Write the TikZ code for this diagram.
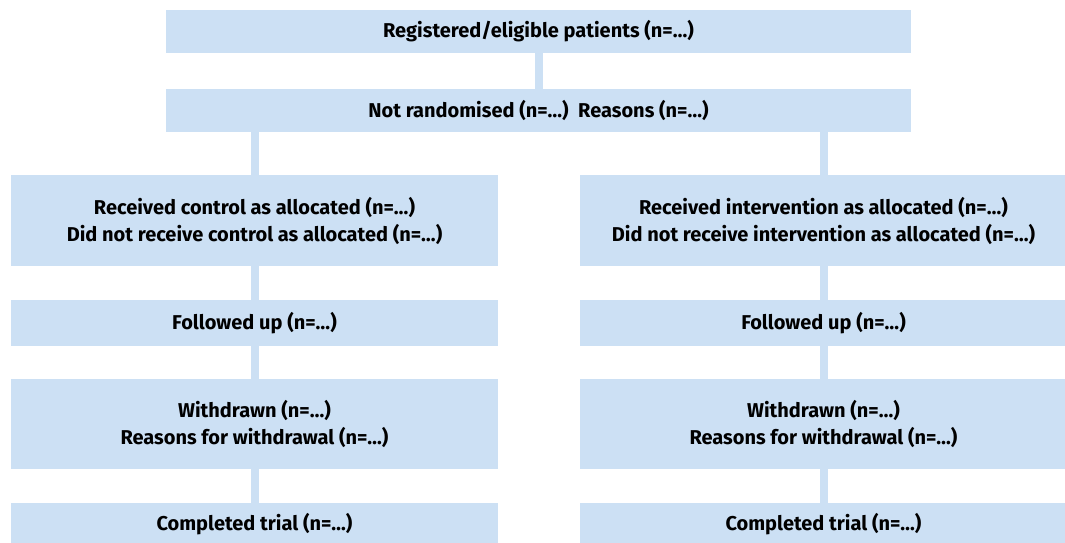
\documentclass[tikz,border=0pt]{standalone}
\usepackage{fontspec}
\setmainfont{Fira Sans}
\definecolor{boxblue}{RGB}{204,224,244}
\begin{document}
\begin{tikzpicture}[x=1pt, y=-1pt,
        box/.style={fill=boxblue, inner sep=0pt, align=center,
            font=\fontsize{20}{27}\selectfont\bfseries},
        link/.style={draw=boxblue, line width=8pt}]
    \useasboundingbox (0,0) rectangle (1065,542);
    % top of the trial
    \node[box, minimum width=745, minimum height=43] (reg) at (538.5,31.5)
        {Registered/eligible patients (n=\dots)};
    \node[box, minimum width=745, minimum height=43] (notrand) at (538.5,110.5)
        {Not randomised (n=\dots)\ \ Reasons (n=\dots)};
    % control arm
    \node[box, minimum width=487, minimum height=91] (ctrl) at (254.5,220.5)
        {Received control as allocated (n=\dots)\\Did not receive control as allocated (n=\dots)};
    \node[box, minimum width=487, minimum height=46] (fupctrl) at (254.5,323)
        {Followed up (n=\dots)};
    \node[box, minimum width=487, minimum height=90] (wdctrl) at (254.5,424)
        {Withdrawn (n=\dots)\\Reasons for withdrawal (n=\dots)};
    \node[box, minimum width=487, minimum height=42] (compctrl) at (254.5,524)
        {Completed trial (n=\dots)};
    % intervention arm
    \node[box, minimum width=487, minimum height=91] (intv) at (823.5,220.5)
        {Received intervention as allocated (n=\dots)\\Did not receive intervention as allocated (n=\dots)};
    \node[box, minimum width=487, minimum height=46] (fupintv) at (823.5,323)
        {Followed up (n=\dots)};
    \node[box, minimum width=487, minimum height=90] (wdintv) at (823.5,424)
        {Withdrawn (n=\dots)\\Reasons for withdrawal (n=\dots)};
    \node[box, minimum width=487, minimum height=42] (compintv) at (823.5,524)
        {Completed trial (n=\dots)};
    % connectors
    \draw[link] (reg.south) -- (notrand.north);
    \draw[link] (notrand.south -| ctrl.north) -- (ctrl.north);
    \draw[link] (notrand.south -| intv.north) -- (intv.north);
    \draw[link] (ctrl) -- (fupctrl) (fupctrl) -- (wdctrl) (wdctrl) -- (compctrl);
    \draw[link] (intv) -- (fupintv) (fupintv) -- (wdintv) (wdintv) -- (compintv);
\end{tikzpicture}
\end{document}
